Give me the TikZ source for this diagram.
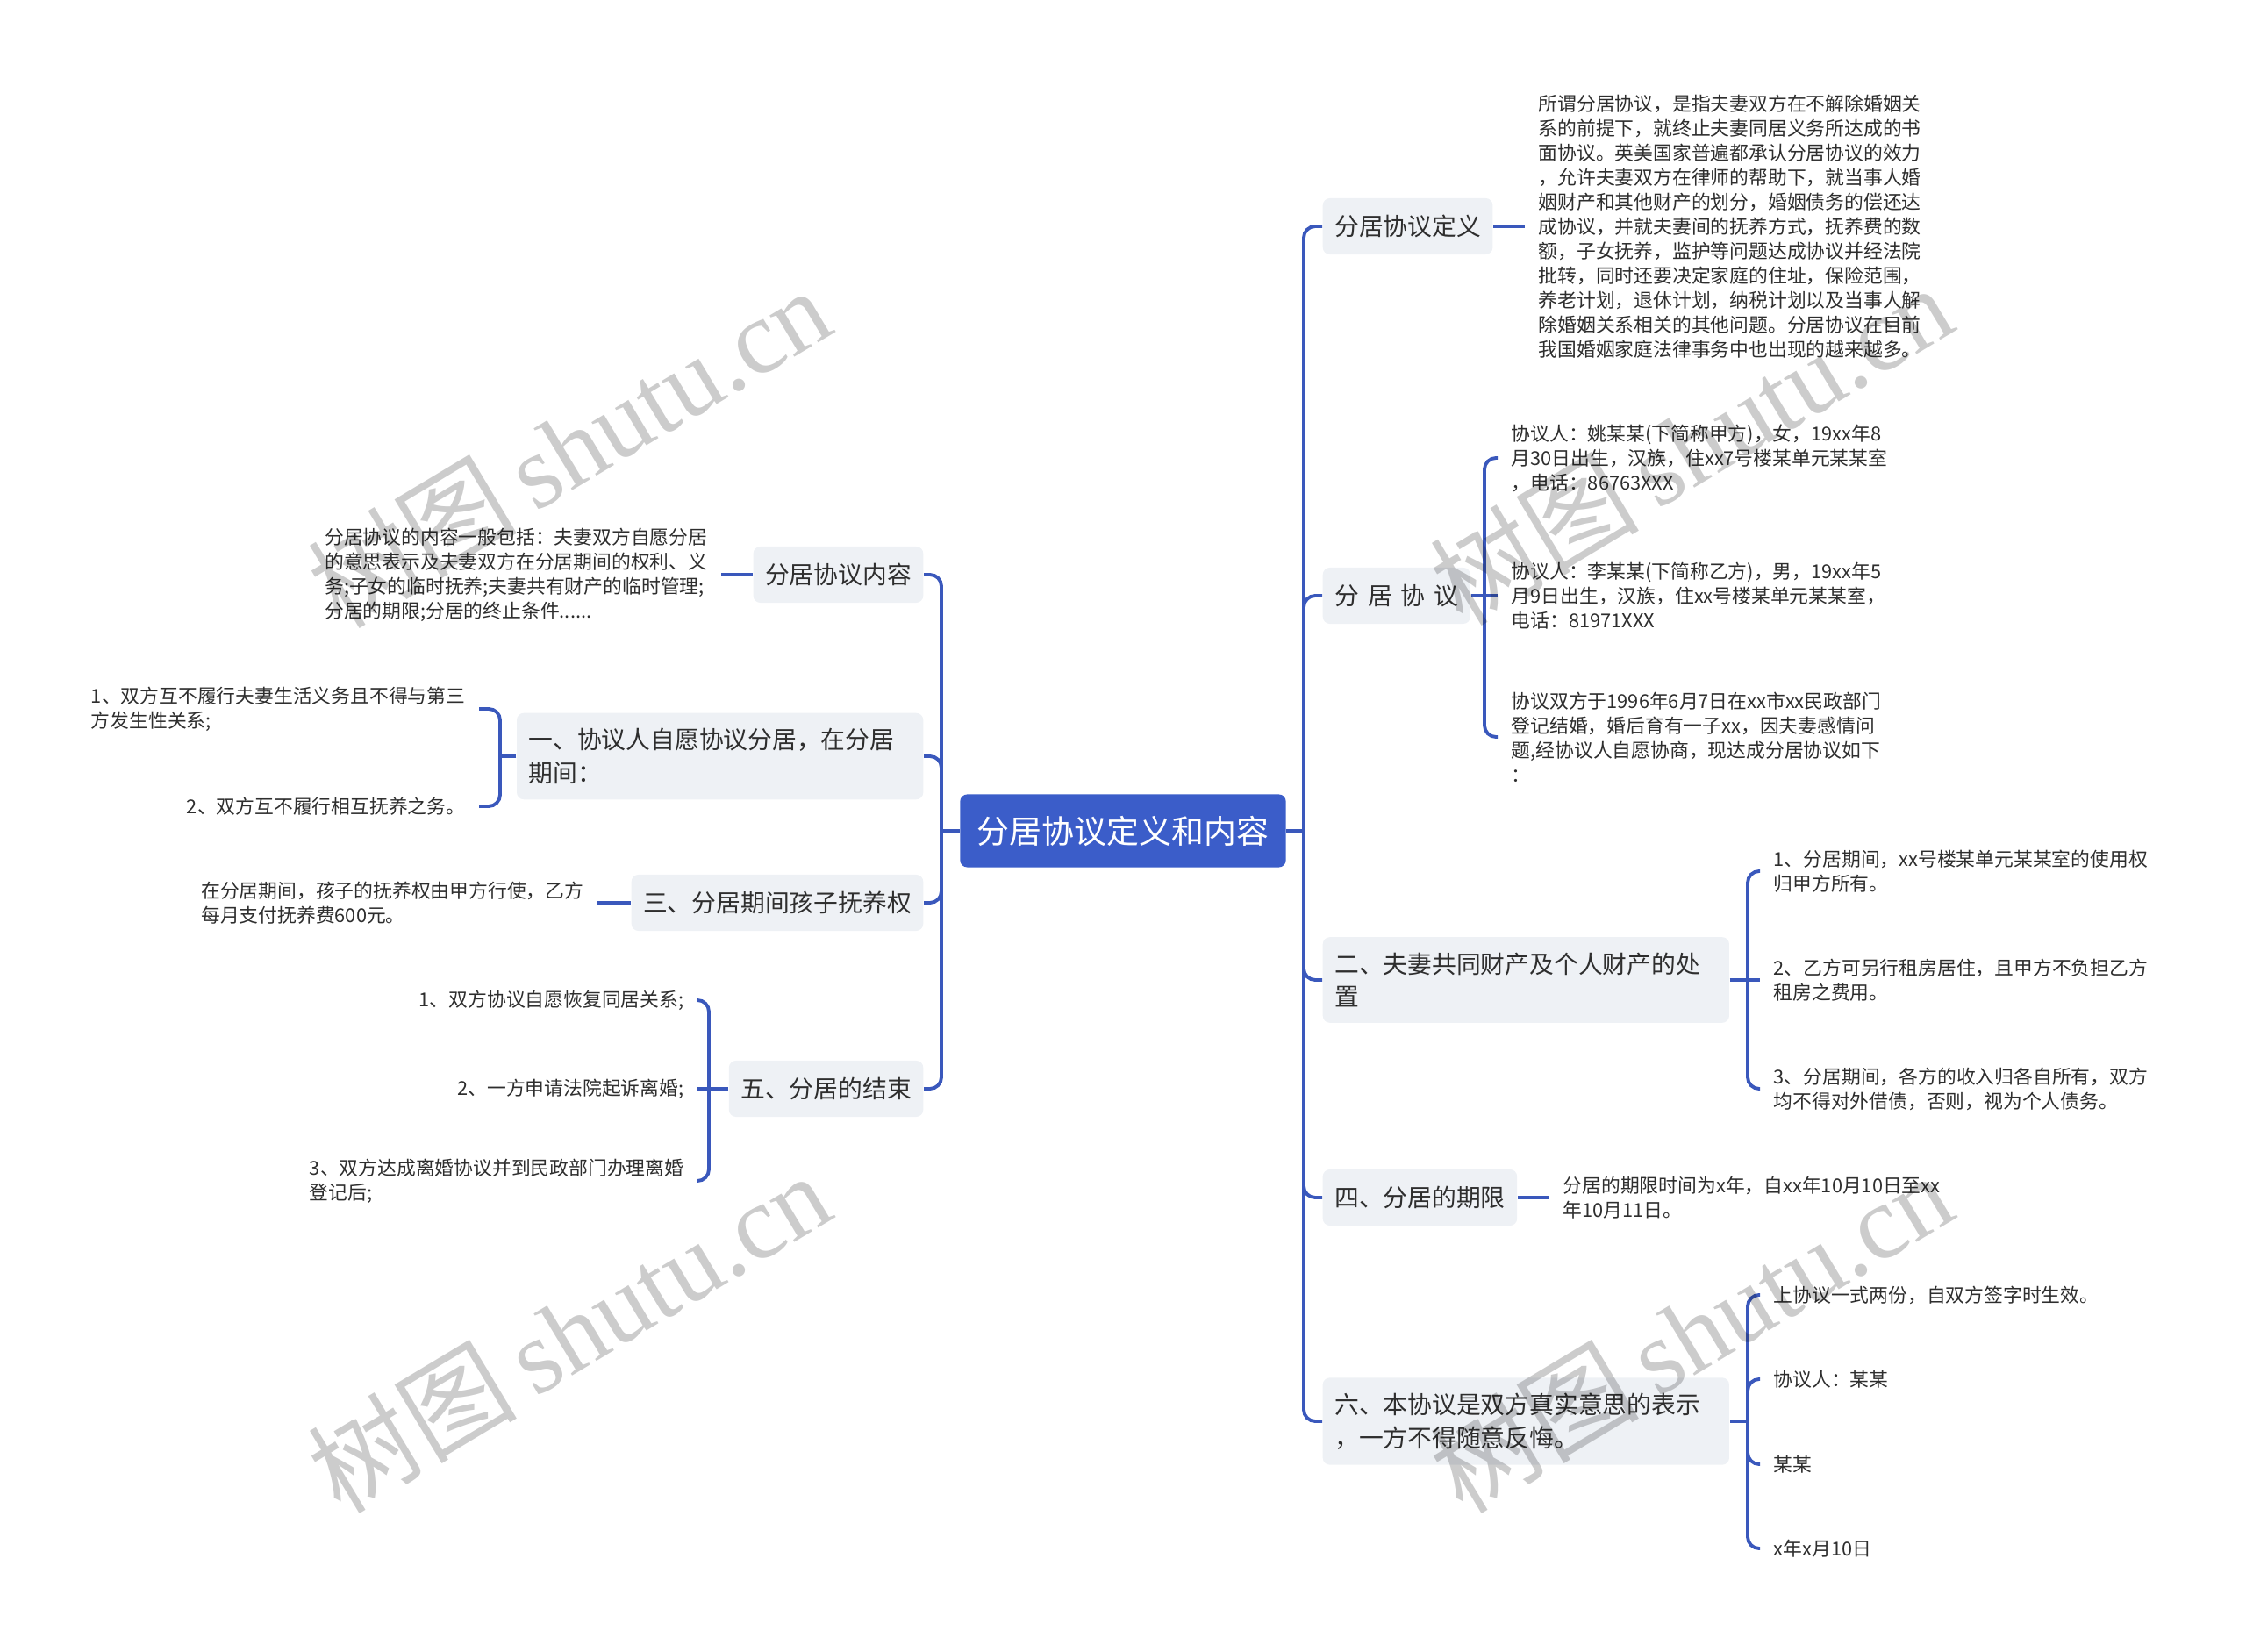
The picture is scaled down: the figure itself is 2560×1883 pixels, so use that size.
\documentclass[tikz,border=0pt]{standalone}
\usepackage{fontspec}
\setmainfont{Noto Sans CJK SC}
\newfontfamily\wmlatin{Liberation Serif}
\definecolor{rootblue}{HTML}{3B5DC9}
\definecolor{linkblue}{HTML}{3A58BC}
\definecolor{boxgray}{HTML}{EEF1F5}
\definecolor{txt}{HTML}{2E2E2E}
\begin{document}
\begin{tikzpicture}[x=0.01cm,y=-0.01cm,
  link/.style={draw=linkblue,line width=1.1pt,rounded corners=0.13cm},
  rootbox/.style={fill=rootblue,rounded corners=0.08cm,text=white,font=\fontsize{10.5}{12}\selectfont,inner xsep=0.195cm,minimum height=0.83cm},
  topicbox/.style={fill=boxgray,rounded corners=0.08cm,text=txt,font=\fontsize{7.9}{10.7}\selectfont,inner xsep=0.135cm,inner ysep=5pt,minimum height=0.64cm,align=left},
  widetopic/.style={topicbox,text width=4.36cm},
  leaf/.style={text=txt,font=\fontsize{6.2}{7.97}\selectfont,inner xsep=0.15cm,inner ysep=2pt,align=left},
  wm/.style={text=black,opacity=0.2,rotate=31,font=\fontsize{34}{40}\selectfont}
]
\useasboundingbox (0,0) rectangle (2560,1883);

% root
\node[rootbox] (root) at (1280,947) {分居协议定义和内容};

% right topics
\node[topicbox,anchor=west] (r1) at (1507,258) {分居协议定义};
\node[topicbox,anchor=west] (r2) at (1507,679) {分\kern0.1cm居\kern0.1cm协\kern0.1cm议};
\node[widetopic,anchor=west] (r3) at (1507,1117) {二、夫妻共同财产及个人财产的处\\置};
\node[topicbox,anchor=west] (r4) at (1507,1365) {四、分居的期限};
\node[widetopic,anchor=west] (r5) at (1507,1620) {六、本协议是双方真实意思的表示\\，一方不得随意反悔。};

% left topics
\node[topicbox,anchor=east] (l1) at (1053,655) {分居协议内容};
\node[widetopic,anchor=east] (l2) at (1053,862) {一、协议人自愿协议分居，在分居\\期间：};
\node[topicbox,anchor=east] (l3) at (1053,1029) {三、分居期间孩子抚养权};
\node[topicbox,anchor=east] (l4) at (1053,1241) {五、分居的结束};

% spines
\coordinate (rs) at (1486,947);
\coordinate (ls) at (1073,947);
\draw[link] (root.east) -- (rs);
\foreach \n in {r1,r2,r3,r4,r5} \draw[link] (rs) |- (\n.west);
\draw[link] (root.west) -- (ls);
\foreach \n in {l1,l2,l3,l4} \draw[link] (ls) |- (\n.east);

% right leaves
\node[leaf,anchor=west] (r1a) at (1738,258) {所谓分居协议，是指夫妻双方在不解除婚姻关\\系的前提下，就终止夫妻同居义务所达成的书\\面协议。英美国家普遍都承认分居协议的效力\\，允许夫妻双方在律师的帮助下，就当事人婚\\姻财产和其他财产的划分，婚姻债务的偿还达\\成协议，并就夫妻间的抚养方式，抚养费的数\\额，子女抚养，监护等问题达成协议并经法院\\批转，同时还要决定家庭的住址，保险范围，\\养老计划，退休计划，纳税计划以及当事人解\\除婚姻关系相关的其他问题。分居协议在目前\\我国婚姻家庭法律事务中也出现的越来越多。};
\draw[link] (r1.east) -- (r1a.west);

\node[leaf,anchor=west] (r2a) at (1707,522) {协议人：姚某某(下简称甲方)，女，19xx年8\\月30日出生，汉族，住xx7号楼某单元某某室\\，电话：86763XXX};
\node[leaf,anchor=west] (r2b) at (1707,679) {协议人：李某某(下简称乙方)，男，19xx年5\\月9日出生，汉族，住xx号楼某单元某某室，\\电话：81971XXX};
\node[leaf,anchor=west] (r2c) at (1707,840) {协议双方于1996年6月7日在xx市xx民政部门\\登记结婚，婚后育有一子xx，因夫妻感情问\\题,经协议人自愿协商，现达成分居协议如下\\：};
\coordinate (b2) at (1692,679);
\draw[link] (r2.east) -- (b2);
\draw[link] (b2) |- (r2a.west);
\draw[link] (b2) -- (r2b.west);
\draw[link] (b2) |- (r2c.west);

\node[leaf,anchor=west] (r3a) at (2006,993) {1、分居期间，xx号楼某单元某某室的使用权\\归甲方所有。};
\node[leaf,anchor=west] (r3b) at (2006,1117) {2、乙方可另行租房居住，且甲方不负担乙方\\租房之费用。};
\node[leaf,anchor=west] (r3c) at (2006,1241) {3、分居期间，各方的收入归各自所有，双方\\均不得对外借债，否则，视为个人债务。};
\coordinate (b3) at (1992,1117);
\draw[link] (r3.east) -- (b3);
\draw[link] (b3) |- (r3a.west);
\draw[link] (b3) -- (r3b.west);
\draw[link] (b3) |- (r3c.west);

\node[leaf,anchor=west] (r4a) at (1766,1365) {分居的期限时间为x年，自xx年10月10日至xx\\年10月11日。};
\draw[link] (r4.east) -- (r4a.west);

\node[leaf,anchor=west] (r5a) at (2006,1476) {上协议一式两份，自双方签字时生效。};
\node[leaf,anchor=west] (r5b) at (2006,1572) {协议人：某某};
\node[leaf,anchor=west] (r5c) at (2006,1669) {某某};
\node[leaf,anchor=west] (r5d) at (2006,1765) {x年x月10日};
\coordinate (b5) at (1992,1620);
\draw[link] (r5.east) -- (b5);
\foreach \n in {r5a,r5b,r5c,r5d} \draw[link] (b5) |- (\n.west);

% left leaves
\node[leaf,anchor=east] (l1a) at (822,655) {分居协议的内容一般包括：夫妻双方自愿分居\\的意思表示及夫妻双方在分居期间的权利、义\\务;子女的临时抚养;夫妻共有财产的临时管理;\\分居的期限;分居的终止条件......};
\draw[link] (l1.west) -- (l1a.east);

\node[leaf,anchor=east] (l2a) at (546,808) {1、双方互不履行夫妻生活义务且不得与第三\\方发生性关系;};
\node[leaf,anchor=east] (l2b) at (546,919) {2、双方互不履行相互抚养之务。};
\coordinate (bl2) at (570,862);
\draw[link] (l2.west) -- (bl2);
\draw[link] (bl2) |- (l2a.east);
\draw[link] (bl2) |- (l2b.east);

\node[leaf,anchor=east] (l3a) at (681,1029) {在分居期间，孩子的抚养权由甲方行使，乙方\\每月支付抚养费600元。};
\draw[link] (l3.west) -- (l3a.east);

\node[leaf,anchor=east] (l4a) at (795,1140) {1、双方协议自愿恢复同居关系;};
\node[leaf,anchor=east] (l4b) at (795,1241) {2、一方申请法院起诉离婚;};
\node[leaf,anchor=east] (l4c) at (795,1346) {3、双方达成离婚协议并到民政部门办理离婚\\登记后;};
\coordinate (bl4) at (808,1241);
\draw[link] (l4.west) -- (bl4);
\draw[link] (bl4) |- (l4a.east);
\draw[link] (bl4) -- (l4b.east);
\draw[link] (bl4) |- (l4c.east);

% watermarks
\node[wm] (wm1) at (648,509) {树图\,{\wmlatin shutu.cn}};
\node[wm] (wm2) at (648,1518) {树图\,{\wmlatin shutu.cn}};
\node[wm] (wm3) at (1927,506) {树图\,{\wmlatin shutu.cn}};
\node[wm] (wm4) at (1927,1518) {树图\,{\wmlatin shutu.cn}};
\end{tikzpicture}
\end{document}
